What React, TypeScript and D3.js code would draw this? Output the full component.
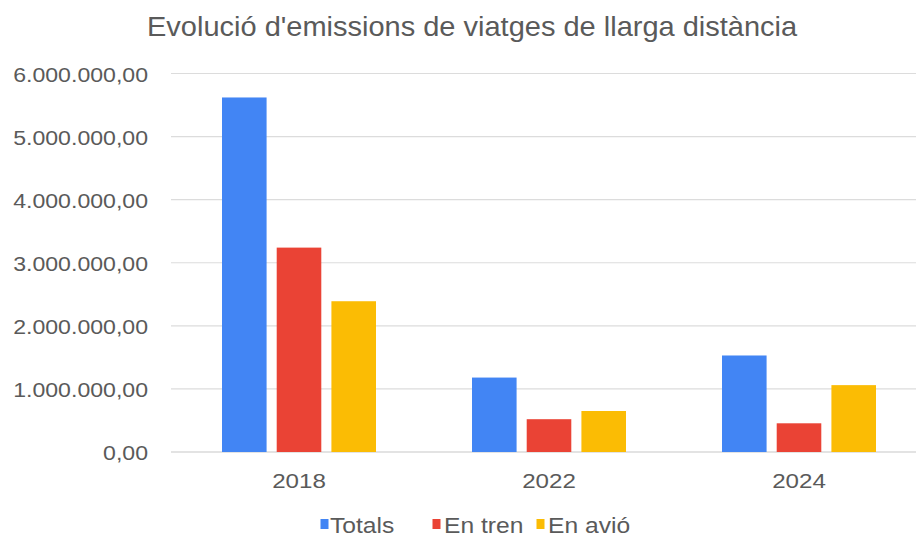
import React from "react";
import * as d3 from "d3";

const categories = ["2018", "2022", "2024"];
const seriesNames = ["Totals", "En tren", "En avió"];
const totals = [5620000, 1180000, 1530000];
const tren = [3240000, 520000, 455000];
const avio = [2390000, 650000, 1060000];
const yTicks = [0, 1000000, 2000000, 3000000, 4000000, 5000000, 6000000];
const colors = ["#4285F4", "#EA4335", "#FBBC04"];
const title = "Evolució d'emissions de viatges de llarga distància";

const W = 916;
const H = 543;
const FONT = "'Liberation Sans', Arial, sans-serif";
const TXT = "#5a5a5a";

function fmt(v: number) {
  const s = Math.round(v).toString().replace(/\B(?=(\d{3})+(?!\d))/g, ".");
  return s + ",00";
}

export default function App() {
  const series = [totals, tren, avio];
  const x0 = d3.scaleBand().domain(categories).range([174, 924]).paddingInner(0).paddingOuter(0);
  const x1 = d3
    .scaleBand()
    .domain(seriesNames)
    .range([x0.bandwidth() / 2 - 77, x0.bandwidth() / 2 + 77])
    .paddingInner(0.185)
    .paddingOuter(0);
  const y = d3.scaleLinear().domain([0, 6000000]).range([452, 73.5]);

  const legendItems = [
    { name: seriesNames[0], sq: 320.5, tx: 330 },
    { name: seriesNames[1], sq: 432.5, tx: 444 },
    { name: seriesNames[2], sq: 536.5, tx: 548 },
  ];

  return (
    <svg
      width={W}
      height={H}
      style={{ position: "absolute", left: 0, top: 0, background: "#fff" }}
      fontFamily={FONT}
    >
      <rect x={0} y={0} width={W} height={H} fill="#fff" />
      <g transform="translate(147,36) scale(1.025,1)">
        <text x={0} y={0} fontSize={28.3} fill={TXT}>
          {title}
        </text>
      </g>
      {yTicks.map((t) => (
        <g key={t}>
          <line x1={171} x2={W} y1={y(t)} y2={y(t)} stroke={t === 0 ? "#c8c8c8" : "#dcdcdc"} strokeWidth={1.2} />
          <g transform={`translate(148,${y(t) + 8}) scale(1.1,1)`}>
            <text x={0} y={0} textAnchor="end" fontSize={21} fill={TXT}>
              {fmt(t)}
            </text>
          </g>
        </g>
      ))}
      {categories.map((c, i) => (
        <g key={c} transform={`translate(${x0(c)},0)`}>
          {series.map((s, j) => (
            <rect
              key={j}
              x={x1(seriesNames[j])}
              y={y(s[i])}
              width={x1.bandwidth()}
              height={y(0) - y(s[i])}
              fill={colors[j]}
            />
          ))}
          <g transform={`translate(${x0.bandwidth() / 2},488) scale(1.15,1)`}>
            <text x={0} y={0} textAnchor="middle" fontSize={21} fill={TXT}>
              {c}
            </text>
          </g>
        </g>
      ))}
      {legendItems.map((l, j) => (
        <g key={l.name}>
          <rect x={l.sq} y={519} width={8} height={10} fill={colors[j]} />
          <g transform={`translate(${l.tx},533) scale(1.12,1)`}>
            <text x={0} y={0} fontSize={22} fill={TXT}>
              {l.name}
            </text>
          </g>
        </g>
      ))}
    </svg>
  );
}
